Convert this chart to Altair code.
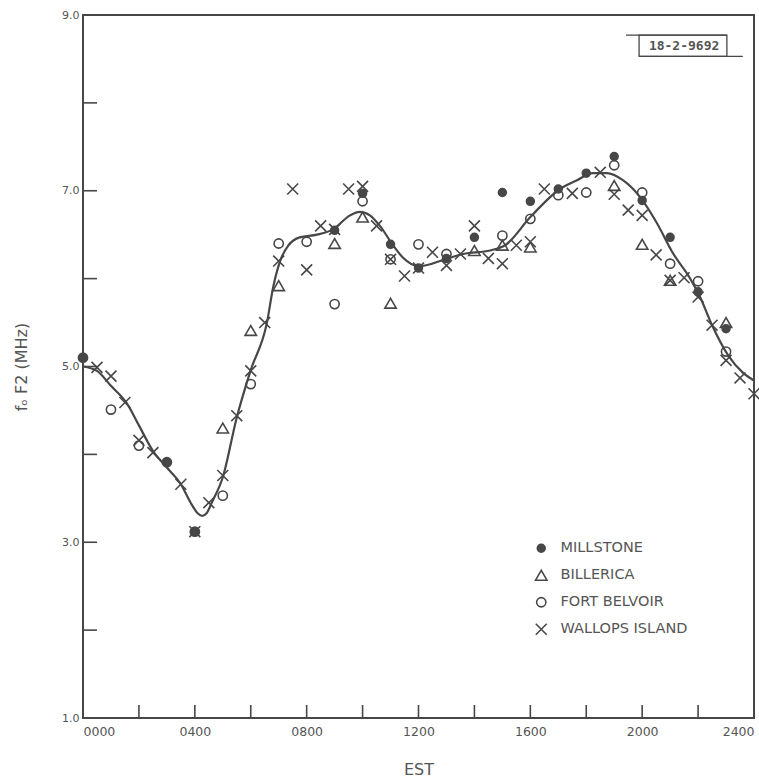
import altair as alt
import pandas as pd

# ---- observations: hour (EST) and foF2 (MHz) per station ----
stations = ["MILLSTONE", "BILLERICA", "FORT BELVOIR", "WALLOPS ISLAND"]

millstone_hr = [0, 3, 4, 9, 10, 11, 12, 13, 14, 15, 16, 17, 18, 19, 20, 21, 22, 23]
millstone_f = [5.10, 3.91, 3.12, 6.55, 6.97, 6.39, 6.12, 6.23, 6.47, 6.98, 6.88,
               7.02, 7.20, 7.39, 6.89, 6.47, 5.85, 5.43]

billerica_hr = [5, 6, 7, 9, 10, 11, 14, 15, 16, 19, 20, 21, 23]
billerica_f = [4.30, 5.41, 5.92, 6.40, 6.70, 5.72, 6.32, 6.38, 6.36, 7.06, 6.39, 5.98, 5.50]

belvoir_hr = [0, 1, 2, 3, 4, 5, 6, 7, 8, 9, 10, 11, 12, 13, 15, 16, 17, 18, 19,
              20, 21, 22, 23]
belvoir_f = [5.10, 4.51, 4.10, 3.91, 3.12, 3.53, 4.80, 6.40, 6.42, 5.71, 6.88, 6.22,
             6.39, 6.28, 6.49, 6.68, 6.95, 6.98, 7.29, 6.98, 6.17, 5.97, 5.17]

wallops_hr = [0.5, 1.0, 1.5, 2.0, 2.5, 3.5, 4.0, 4.5, 5.0, 5.5, 6.0, 6.5, 7.0, 7.5,
              8.0, 8.5, 9.0, 9.5, 10.0, 10.5, 11.0, 11.5, 12.0, 12.5, 13.0, 13.5,
              14.0, 14.5, 15.0, 15.5, 16.0, 16.5, 17.5, 18.5, 19.0, 19.5, 20.0,
              20.5, 21.0, 21.5, 22.0, 22.5, 23.0, 23.5, 24.0]
wallops_f = [4.99, 4.89, 4.59, 4.16, 4.02, 3.66, 3.12, 3.45, 3.76, 4.44, 4.95, 5.50,
             6.20, 7.02, 6.10, 6.60, 6.56, 7.02, 7.05, 6.60, 6.22, 6.03, 6.12, 6.30,
             6.15, 6.28, 6.60, 6.23, 6.17, 6.38, 6.42, 7.02, 6.97, 7.21, 6.96, 6.78,
             6.72, 6.27, 5.98, 6.01, 5.79, 5.47, 5.07, 4.87, 4.69]

# ---- smoothed mean curve ----
curve_hr = [0.0, 0.5, 1.0, 1.57, 2.0, 2.5, 3.0, 3.5, 3.85, 4.1, 4.26, 4.42, 4.62, 5.0,
            5.5, 6.0, 6.58, 6.8, 7.05, 7.35, 7.75, 8.37, 8.94, 9.55, 9.9, 10.26, 10.62,
            11.09, 11.44, 12.02, 13.05, 13.6, 14.56, 15.1, 16.0, 17.06, 17.67, 18.24,
            18.74, 19.31, 19.92, 20.53, 21.1, 21.7, 22.07, 22.5, 23.07, 23.6, 24.0]
curve_f = [5.00, 4.95, 4.78, 4.58, 4.33, 4.04, 3.85, 3.66, 3.45, 3.33, 3.30, 3.33, 3.46,
           3.74, 4.42, 4.96, 5.50, 5.90, 6.20, 6.38, 6.47, 6.50, 6.56, 6.72, 6.76, 6.72,
           6.60, 6.38, 6.24, 6.14, 6.23, 6.28, 6.32, 6.38, 6.70, 7.02, 7.12, 7.20, 7.20,
           7.12, 6.93, 6.63, 6.29, 6.01, 5.79, 5.47, 5.13, 4.93, 4.84]

# axis tick positions
x_label_values = [0, 4, 8, 12, 16, 20, 24]
x_tick_values = [2, 4, 6, 8, 10, 12, 14, 16, 18, 20, 22]
y_label_values = [1, 3, 5, 7, 9]
y_tick_values = [2, 3, 4, 5, 6, 7, 8]

# figure-number stamp
stamp_text = "18-2-9692"
stamp_x = [19.89, 23.03]
stamp_y = [8.53, 8.77]
stamp_top_line = [19.42, 23.03]
stamp_bottom_line = [19.89, 23.6]
stamp_center = [21.50, 8.65]

INK = "#474747"
TEXT = "#555555"
FONT = "DejaVu Sans"
W, H = 671, 703

rows = []
for name, hrs, vals in [
    (stations[0], millstone_hr, millstone_f),
    (stations[1], billerica_hr, billerica_f),
    (stations[2], belvoir_hr, belvoir_f),
    (stations[3], wallops_hr, wallops_f),
]:
    rows += [{"hour": h, "fof2": v, "station": name} for h, v in zip(hrs, vals)]
obs = pd.DataFrame(rows)
curve = pd.DataFrame({"hour": curve_hr, "fof2": curve_f})

x_scale = alt.Scale(domain=[0, 24], nice=False, zero=False)
y_scale = alt.Scale(domain=[1, 9], nice=False, zero=False)

x_axis = alt.Axis(
    values=x_label_values, grid=False, ticks=False, domain=False,
    labelExpr="datum.value < 10 ? '0' + datum.value + '00' : datum.value + '00'",
    labelFlush=True, labelPadding=7, labelFont=FONT, labelFontSize=12.5,
    labelColor=TEXT, title="EST", titleFont=FONT, titleFontSize=16,
    titleFontWeight="normal", titleColor=TEXT, titlePadding=24,
)
y_axis = alt.Axis(
    values=y_label_values, format=".1f", grid=False, ticks=False, domain=False,
    labelPadding=4, labelFont=FONT, labelFontSize=11, labelColor=TEXT,
    title="fₒ F2 (MHz)", titleFont=FONT, titleFontSize=16,
    titleFontWeight="normal", titleColor=TEXT, titlePadding=32,
)

line = alt.Chart(curve).mark_line(
    interpolate="monotone", color=INK, strokeWidth=2.2
).encode(
    x=alt.X("hour:Q", scale=x_scale, axis=x_axis),
    y=alt.Y("fof2:Q", scale=y_scale, axis=y_axis),
)

x_shape = "M-1,-1L1,1M-1,1L1,-1"
legend = alt.Legend(
    title=None, orient="none", legendX=451, legendY=526, padding=0,
    labelFont=FONT, labelFontSize=14.5, labelColor=TEXT, labelOffset=12,
    rowPadding=9, gridAlign="all", symbolStrokeWidth=1.6,
)
points = alt.Chart(obs).mark_point(strokeWidth=1.6, opacity=1).encode(
    x="hour:Q",
    y="fof2:Q",
    shape=alt.Shape("station:N", scale=alt.Scale(
        domain=stations, range=["circle", "triangle-up", "circle", x_shape]),
        legend=legend),
    fill=alt.Fill("station:N", scale=alt.Scale(
        domain=stations, range=[INK, "transparent", "transparent", "transparent"]),
        legend=legend),
    stroke=alt.Stroke("station:N", scale=alt.Scale(
        domain=stations, range=[INK, INK, INK, INK]), legend=legend),
    size=alt.Size("station:N", scale=alt.Scale(
        type="ordinal", domain=stations, range=[62, 130, 85, 120]), legend=legend),
)

# inward-pointing ticks on the left and bottom frame
y_ticks = alt.Chart(pd.DataFrame({"v": y_tick_values})).mark_rule(
    color=INK, strokeWidth=1.6
).encode(y="v:Q", x=alt.value(0), x2=alt.value(14))
x_ticks = alt.Chart(pd.DataFrame({"v": x_tick_values})).mark_rule(
    color=INK, strokeWidth=1.6
).encode(x="v:Q", y=alt.value(H), y2=alt.value(H - 13))

# figure-number stamp in the upper right
stamp_box = alt.Chart(pd.DataFrame({
    "x": [stamp_x[0]], "x2": [stamp_x[1]], "y": [stamp_y[0]], "y2": [stamp_y[1]]
})).mark_rect(fill="white", stroke=INK, strokeWidth=1.3).encode(
    x="x:Q", x2="x2:Q", y="y:Q", y2="y2:Q")
stamp_lines = alt.Chart(pd.DataFrame({
    "x": [stamp_top_line[0], stamp_bottom_line[0]],
    "x2": [stamp_top_line[1], stamp_bottom_line[1]],
    "y": [stamp_y[1], stamp_y[0]],
})).mark_rule(color=INK, strokeWidth=1.3).encode(x="x:Q", x2="x2:Q", y="y:Q")
stamp_label = alt.Chart(pd.DataFrame({
    "x": [stamp_center[0]], "y": [stamp_center[1]], "t": [stamp_text]
})).mark_text(font="DejaVu Sans Mono", fontSize=13, fontWeight="bold",
              color=TEXT, align="center", baseline="middle").encode(
    x="x:Q", y="y:Q", text="t:N")

chart = alt.layer(
    line, points, y_ticks, x_ticks, stamp_box, stamp_lines, stamp_label
).properties(
    width=W, height=H,
    autosize=alt.AutoSizeParams(type="none"),
    padding={"left": 83, "top": 15, "right": 5, "bottom": 64},
    background="white",
).configure_view(
    stroke=INK, strokeWidth=2
)

chart.save("out.html", embed_options={"renderer": "svg", "actions": False})
